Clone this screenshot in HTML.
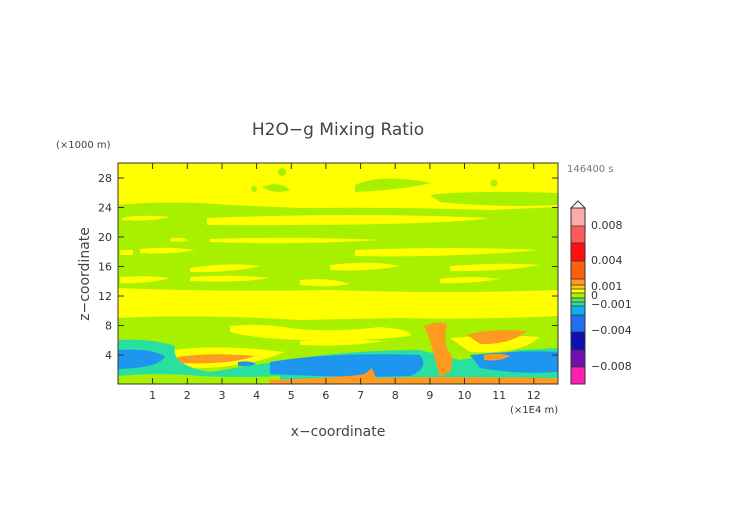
<!DOCTYPE html>
<html><head><meta charset="utf-8"><style>
body{margin:0;background:#fff;}
svg{display:block;font-family:"DejaVu Sans","Liberation Sans",sans-serif;}
</style></head><body>
<svg width="752" height="532" viewBox="0 0 752 532" xmlns="http://www.w3.org/2000/svg">
<defs><clipPath id="c"><rect x="118" y="163" width="440" height="221"/></clipPath></defs>
<text x="338" y="135" font-size="17" fill="#444" text-anchor="middle">H2O−g Mixing Ratio</text>
<text x="56" y="148" font-size="10" fill="#444">(×1000 m)</text>
<text x="567" y="172" font-size="10" fill="#777">146400 s</text>
<g clip-path="url(#c)">
<rect x="118" y="163" width="440" height="221" fill="#ffff00"/>
<g fill="#a6f000">
<path d="M118 205 Q170 200 230 205 L300 208 Q400 207 490 210 L558 207 L558 290 Q450 294 330 290 Q220 292 118 288 Z"/>
<path d="M430 195 Q470 190 558 193 L558 205 Q500 208 440 202 Z"/>
<path d="M355 185 Q380 173 432 183 Q400 190 355 192 Z"/>
<path d="M262 187 Q280 180 290 190 Q275 195 262 187 Z"/>
<circle cx="282" cy="172" r="4"/><circle cx="494" cy="183" r="3.5"/><circle cx="254" cy="189" r="3"/>
<path d="M118 318 Q200 314 300 320 L400 318 Q470 320 558 316 L558 384 L118 384 Z"/>
</g>
<g fill="#ffff00">
<path d="M207 218 Q350 212 490 218 Q440 226 207 225 Z"/>
<path d="M122 218 Q140 214 170 217 Q150 222 122 220 Z"/>
<path d="M210 239 Q300 236 380 240 Q300 245 210 242 Z"/>
<path d="M170 239 Q180 236 188 240 Q180 243 170 241 Z"/>
<path d="M355 250 Q450 246 540 250 Q450 258 355 256 Z"/>
<path d="M140 249 Q170 246 195 250 Q170 255 140 253 Z"/>
<path d="M120 250 L133 250 L133 255 L120 255 Z"/>
<path d="M190 268 Q230 262 260 266 Q230 273 190 272 Z"/>
<path d="M330 265 Q370 260 400 266 Q370 272 330 270 Z"/>
<path d="M450 266 Q500 262 540 265 Q500 272 450 271 Z"/>
<path d="M120 277 Q150 275 170 278 Q150 284 120 283 Z"/>
<path d="M190 277 Q240 274 270 278 Q240 283 190 281 Z"/>
<path d="M300 280 Q330 277 350 284 Q330 288 300 285 Z"/>
<path d="M440 279 Q470 275 500 279 Q470 284 440 283 Z"/>
<path d="M230 326 Q260 323 290 328 Q330 333 380 327 Q415 330 410 336 Q360 342 300 340 Q250 338 230 332 Z"/>
<path d="M300 341 Q340 338 385 341 Q350 347 300 345 Z"/>
<path d="M172 350 Q220 344 285 352 Q240 370 185 368 Q168 358 172 350 Z"/>
<path d="M450 338 Q500 334 540 337 Q520 355 470 352 Z"/>
</g>
<g fill="#28e0a0">
<path d="M118 340 Q150 338 175 346 Q170 365 210 372 L300 358 Q360 350 420 350 L460 360 L520 350 L558 348 L558 384 L118 384 Z"/>
</g>
<g fill="#a6f000">
<path d="M118 376 Q160 372 200 376 Q240 378 280 376 L280 384 L118 384 Z"/>
</g>
<g fill="#1e96f0">
<path d="M118 350 Q150 348 165 356 Q160 368 118 369 Z"/>
<path d="M270 362 Q330 352 420 355 Q430 368 410 376 Q340 378 270 374 Z"/>
<path d="M470 355 Q520 350 558 352 L558 372 Q520 375 480 368 Z"/>
<path d="M238 362 Q250 360 256 364 Q250 367 238 366 Z"/>
</g>
<g fill="#ff9a20">
<path d="M177 357 Q210 352 255 356 Q230 365 180 363 Z"/>
<path d="M424 326 Q440 320 447 324 Q443 340 448 350 Q455 358 450 372 L440 377 Q435 360 430 340 Z"/>
<path d="M467 335 Q490 328 527 331 Q510 345 480 344 Z"/>
<path d="M484 355 Q500 352 510 356 Q500 362 484 360 Z"/>
<path d="M270 380 Q350 377 365 374 L372 368 L376 378 Q420 376 558 378 L558 384 L270 384 Z"/>
</g>
</g>
<rect x="118" y="163" width="440" height="221" fill="none" stroke="#333" stroke-width="1"/>
<g stroke="#333" stroke-width="1">
<path d="M152.6 384v-6M187.3 384v-6M222 384v-6M256.6 384v-6M291.3 384v-6M325.9 384v-6M360.6 384v-6M395.2 384v-6M429.9 384v-6M464.5 384v-6M499.2 384v-6M533.8 384v-6"/>
<path d="M152.6 163v6M187.3 163v6M222 163v6M256.6 163v6M291.3 163v6M325.9 163v6M360.6 163v6M395.2 163v6M429.9 163v6M464.5 163v6M499.2 163v6M533.8 163v6"/>
<path d="M118 355h6M118 325.5h6M118 296h6M118 266.5h6M118 237h6M118 207.5h6M118 178h6"/>
<path d="M558 355h-6M558 325.5h-6M558 296h-6M558 266.5h-6M558 237h-6M558 207.5h-6M558 178h-6"/>
</g>
<g font-size="11" fill="#333" text-anchor="middle">
<text x="152.6" y="399">1</text><text x="187.3" y="399">2</text><text x="222" y="399">3</text><text x="256.6" y="399">4</text><text x="291.3" y="399">5</text><text x="325.9" y="399">6</text><text x="360.6" y="399">7</text><text x="395.2" y="399">8</text><text x="429.9" y="399">9</text><text x="464.5" y="399">10</text><text x="499.2" y="399">11</text><text x="533.8" y="399">12</text>
</g>
<g font-size="11" fill="#333" text-anchor="end">
<text x="112" y="359">4</text><text x="112" y="329.5">8</text><text x="112" y="300">12</text><text x="112" y="270.5">16</text><text x="112" y="241">20</text><text x="112" y="211.5">24</text><text x="112" y="182">28</text>
</g>
<text x="510" y="413" font-size="10" fill="#333">(×1E4 m)</text>
<text x="338" y="436" font-size="14" fill="#444" text-anchor="middle">x−coordinate</text>
<text x="89" y="274" font-size="14" fill="#444" text-anchor="middle" transform="rotate(-90 89 274)">z−coordinate</text>
<g>
<path d="M571 208 L578 201 L585 208 Z" fill="#fff" stroke="#333"/>
<rect x="571" y="208" width="14" height="18" fill="#ffaaaa"/>
<rect x="571" y="226" width="14" height="17" fill="#ff5a5a"/>
<rect x="571" y="243" width="14" height="18" fill="#ff1010"/>
<rect x="571" y="261" width="14" height="18" fill="#ff6010"/>
<rect x="571" y="279" width="14" height="6" fill="#ff9a20"/>
<rect x="571" y="285" width="14" height="4" fill="#ffcc10"/>
<rect x="571" y="289" width="14" height="4" fill="#ffff00"/>
<rect x="571" y="293" width="14" height="5" fill="#a6f000"/>
<rect x="571" y="298" width="14" height="4" fill="#60e060"/>
<rect x="571" y="302" width="14" height="4" fill="#28e0a0"/>
<rect x="571" y="306" width="14" height="9" fill="#10b0f0"/>
<rect x="571" y="315" width="14" height="17" fill="#1e70f0"/>
<rect x="571" y="332" width="14" height="18" fill="#1010b0"/>
<rect x="571" y="350" width="14" height="17" fill="#7010b0"/>
<rect x="571" y="367" width="14" height="17" fill="#ff20b0"/>
<rect x="571" y="208" width="14" height="176" fill="none" stroke="#333"/>
<path d="M571 226h14M571 243h14M571 261h14M571 279h14M571 285h14M571 289h14M571 293h14M571 298h14M571 302h14M571 306h14M571 315h14M571 332h14M571 350h14M571 367h14" stroke="#333" stroke-width="0.8"/>
</g>
<g font-size="11" fill="#333">
<text x="591" y="229">0.008</text><text x="591" y="264">0.004</text><text x="591" y="290">0.001</text><text x="591" y="299">0</text><text x="591" y="308">−0.001</text><text x="591" y="334">−0.004</text><text x="591" y="370">−0.008</text>
</g>
</svg>
</body></html>
